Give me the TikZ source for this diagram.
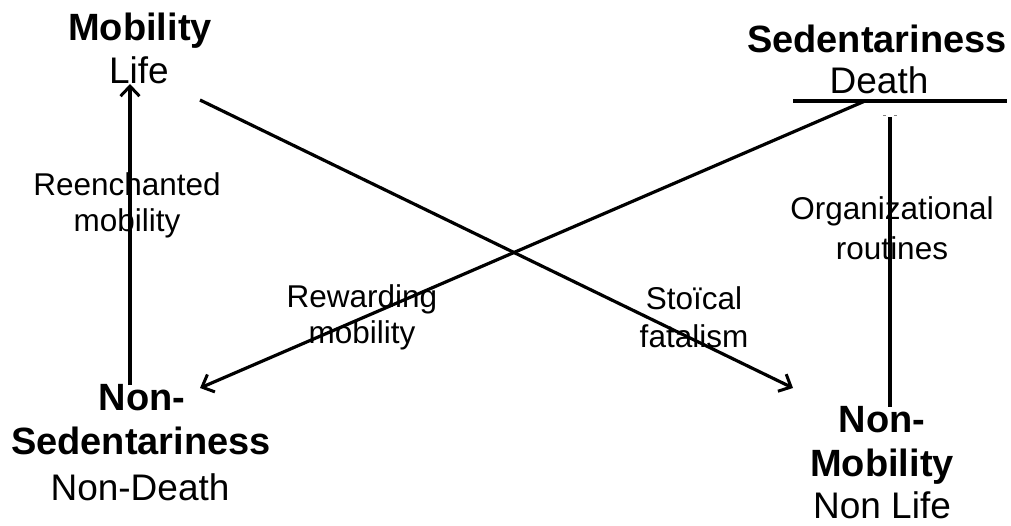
\documentclass[tikz,border=0pt]{standalone}
\usepackage{fontspec}
\setmainfont{Liberation Sans}
\usetikzlibrary{arrows.meta}
\tikzset{
  title/.style={anchor=base, inner sep=0pt, font=\fontsize{38}{43}\selectfont\bfseries},
  sub/.style={anchor=base, inner sep=0pt, font=\fontsize{37}{43}\selectfont},
  lab/.style={anchor=base, inner sep=0pt, font=\fontsize{31.5}{36}\selectfont},
  link/.style={line width=3.2pt, black},
  tip/.style={-{Straight Barb[length=10pt,width=19pt,line width=3pt]}}
}
\begin{document}
\begin{tikzpicture}[x=1pt,y=-1pt]
\useasboundingbox (0,0) rectangle (1011,525);

% corner terms
\node[title] (mobT) at (140,40) {Mobility};
\node[sub]   (mobS) at (139,83) {Life};

\node[title] (sedT) at (877,52) {Sedentariness};
\node[sub]   (sedS) at (879,93) {Death};

\node[title] (nsedA) at (142,410) {Non-};
\node[title] (nsedB) at (141,454) {Sedentariness};
\node[sub]   (nsedS) at (140,500) {Non-Death};

\node[title] (nmobA) at (882,432) {Non-};
\node[title] (nmobB) at (882,476) {Mobility};
\node[sub]   (nmobS) at (882,518) {Non Life};

% relation labels
\node[lab] (reA) at (127,195) {Reenchanted};
\node[lab] (reB) at (127,231) {mobility};

\node[lab] (orA) at (892,219) {Organizational};
\node[lab] (orB) at (892,259) {routines};

\node[lab] (rwA) at (362,307) {Rewarding};
\node[lab] (rwB) at (362,343) {mobility};

\node[lab] (stA) at (694,309) {Sto\"{\i}cal};
\node[lab] (stB) at (694,347) {fatalism};

% connector end points
\coordinate (lifeIn)  at (130,84);
\coordinate (nsedOut) at (130,385);
\coordinate (lifeOut) at (200,100);
\coordinate (nmobIn)  at (793,388);
\coordinate (barL)    at (793,101);
\coordinate (barR)    at (1007,101);
\coordinate (barMid)  at (865,101);
\coordinate (nsedIn)  at (200,388);
\coordinate (orTop)   at (890,117);
\coordinate (orBot)   at (890,407);

% connectors
\draw[link] (barL) -- (barR);
\draw[link,tip] (nsedOut) -- (lifeIn);
\draw[link,tip] (lifeOut) -- (nmobIn);
\draw[link,tip] (barMid) -- (nsedIn);
\draw[link] (orTop) -- (orBot);
\draw[gray, line width=1pt] (883,115) -- (886,115) (894,115) -- (897,115);
\end{tikzpicture}
\end{document}
